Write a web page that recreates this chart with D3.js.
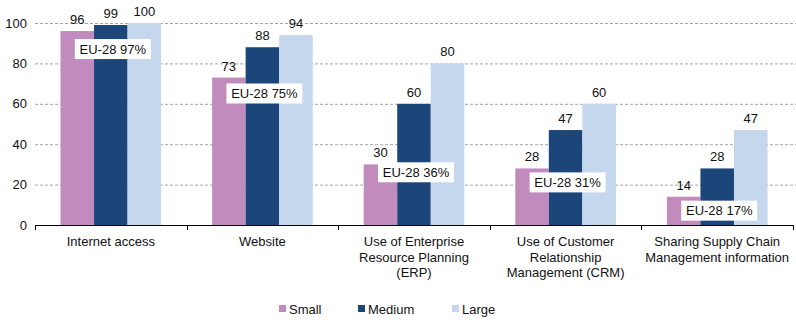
<!DOCTYPE html>
<html>
<head>
<meta charset="utf-8">
<script src="https://cdn.jsdelivr.net/npm/d3@7"></script>
<style>
  body { margin: 0; background: #fff; }
  svg { display: block; font-family: "Liberation Sans", Arial, sans-serif; }
</style>
</head>
<body>
<div id="chart"></div>
<script>
// categories, split in lines as in the original
const categories = ["Internet access", "Website", "ERP", "CRM", "SCM"]
const categoryLines = [
  ["Internet access"],
  ["Website"],
  ["Use of Enterprise", "Resource Planning", "(ERP)"],
  ["Use of Customer", "Relationship", "Management (CRM)"],
  ["Sharing Supply Chain", "Management information"]
]
const series = ["Small", "Medium", "Large"]
const small = [96, 73, 30, 28, 14]
const medium = [99, 88, 60, 47, 28]
const large = [100, 94, 80, 60, 47]
const eu28 = [97, 75, 36, 31, 17]
const yTicks = [0, 20, 40, 60, 80, 100]
const colors = ["#c18bbd", "#1c4579", "#c5d7ed"]

const width = 796, height = 328
const values = [small, medium, large]

const svg = d3.select("#chart").append("svg")
  .attr("width", width)
  .attr("height", height)

const x0 = d3.scaleBand().domain(categories).range([35, 793])
const x1 = d3.scaleBand().domain(series).range([0, x0.bandwidth()])
  .paddingInner(0).paddingOuter(0.76)
const y = d3.scaleLinear().domain([0, 100]).range([225, 23])
const color = d3.scaleOrdinal().domain(series).range(colors)

// gridlines
svg.append("g").selectAll("line")
  .data(yTicks.filter(d => d > 0))
  .join("line")
  .attr("x1", 35).attr("x2", width)
  .attr("y1", d => y(d) + 0.5).attr("y2", d => y(d) + 0.5)
  .attr("stroke", "#a6a6a6")
  .attr("stroke-dasharray", "3,2")

// y tick labels
svg.append("g").selectAll("text")
  .data(yTicks)
  .join("text")
  .attr("x", 27)
  .attr("y", d => y(d))
  .attr("dy", "0.36em")
  .attr("text-anchor", "end")
  .attr("font-size", 13)
  .attr("fill", "#111")
  .text(d => d)

// bars
const groups = svg.append("g").selectAll("g")
  .data(categories)
  .join("g")
  .attr("transform", d => `translate(${x0(d)},0)`)

groups.selectAll("rect")
  .data((d, i) => series.map((s, j) => ({ s, v: values[j][i] })))
  .join("rect")
  .attr("x", d => x1(d.s))
  .attr("width", x1.bandwidth())
  .attr("y", d => y(d.v))
  .attr("height", d => y(0) - y(d.v))
  .attr("fill", d => color(d.s))

groups.selectAll("text.val")
  .data((d, i) => series.map((s, j) => ({ s, v: values[j][i] })))
  .join("text")
  .attr("class", "val")
  .attr("x", d => x1(d.s) + x1.bandwidth() / 2)
  .attr("y", d => y(d.v) - 7)
  .attr("text-anchor", "middle")
  .attr("font-size", 13)
  .attr("fill", "#111")
  .text(d => d.v)

// EU-28 boxes
const eu = groups.append("g")
  .attr("transform", (d, i) => `translate(${x0.bandwidth() / 2 + 2},${y(eu28[i]) + 20})`)
eu.append("rect")
  .attr("x", -38).attr("y", -10)
  .attr("width", 76).attr("height", 20)
  .attr("fill", "#fff")
eu.append("text")
  .attr("text-anchor", "middle")
  .attr("dy", "0.36em")
  .attr("font-size", 13)
  .attr("fill", "#111")
  .text((d, i) => `EU-28 ${eu28[i]}%`)

// x axis
const xAxis = svg.append("g")
xAxis.append("line")
  .attr("x1", 35).attr("x2", 794)
  .attr("y1", 225.5).attr("y2", 225.5)
  .attr("stroke", "#000")
xAxis.selectAll("line.tick")
  .data(categories.concat([null]))
  .join("line")
  .attr("class", "tick")
  .attr("x1", (d, i) => Math.round(35 + i * x0.step()) + 0.5)
  .attr("x2", (d, i) => Math.round(35 + i * x0.step()) + 0.5)
  .attr("y1", 225).attr("y2", 230)
  .attr("stroke", "#000")

xAxis.selectAll("text")
  .data(categories)
  .join("text")
  .attr("x", d => x0(d) + x0.bandwidth() / 2)
  .attr("y", 246)
  .attr("text-anchor", "middle")
  .attr("font-size", 13)
  .attr("fill", "#111")
  .selectAll("tspan")
  .data((d, i) => categoryLines[i])
  .join("tspan")
  .attr("x", function () { return this.parentNode.getAttribute("x") })
  .attr("dy", (d, i) => i === 0 ? 0 : 15.5)
  .text(d => d)

// legend
const legendX = [279, 358, 452]
const legend = svg.append("g").selectAll("g")
  .data(series)
  .join("g")
  .attr("transform", (d, i) => `translate(${legendX[i]},309)`)
legend.append("rect")
  .attr("x", 0).attr("y", -4)
  .attr("width", 7).attr("height", 7)
  .attr("fill", d => color(d))
legend.append("text")
  .attr("x", 10)
  .attr("dy", "0.36em")
  .attr("font-size", 13)
  .attr("fill", "#111")
  .text(d => d)
</script>
</body>
</html>
